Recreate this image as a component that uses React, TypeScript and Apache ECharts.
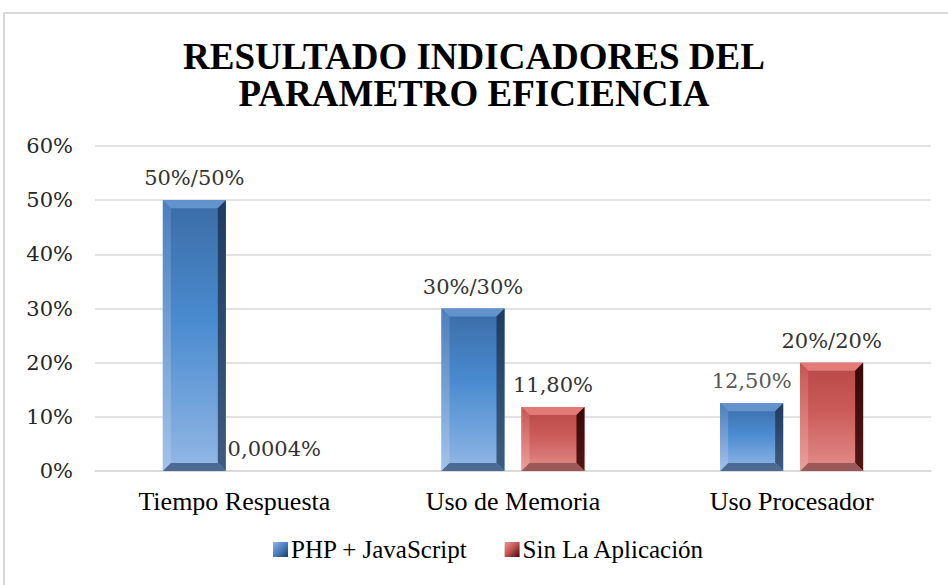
import React, { useEffect, useRef } from "react";
import * as echarts from "echarts";

const categories = ["Tiempo Respuesta", "Uso de Memoria", "Uso Procesador"];
const seriesNames = ["PHP + JavaScript", "Sin La Aplicación"];
const phpValues = [50, 30, 12.5];
const sinValues = [0.0004, 11.8, 20];
const phpLabels = ["50%/50%", "30%/30%", "12,50%"];
const sinLabels = ["0,0004%", "11,80%", "20%/20%"];
const yTicks = { min: 0, max: 60, interval: 10 };
const titleText = "RESULTADO INDICADORES DEL\nPARAMETRO EFICIENCIA";

const LG = (x0: number, y0: number, x1: number, y1: number, stops: [number, string][]) =>
  new echarts.graphic.LinearGradient(
    x0, y0, x1, y1,
    stops.map(([offset, color]) => ({ offset, color }))
  );

const palettes = [
  {
    face: [[0, "#3b6ca6"], [0.45, "#4a8bd0"], [1, "#93b8e5"]] as [number, string][],
    top: "#6393cd",
    left: [[0, "#4b7fbe"], [1, "#a3c3ea"]] as [number, string][],
    right: [[0, "#1f3b61"], [1, "#3e5b80"]] as [number, string][],
    bottom: "#4d6b92",
    labelColors: ["#333333", "#333333", "#595959"],
  },
  {
    face: [[0, "#b84846"], [0.45, "#cb5b59"], [1, "#e38e8b"]] as [number, string][],
    top: "#e27a77",
    left: [[0, "#c85654"], [1, "#eba09d"]] as [number, string][],
    right: [[0, "#360909"], [1, "#521616"]] as [number, string][],
    bottom: "#9c5858",
    labelColors: ["#333333", "#333333", "#333333"],
  },
];

const labelFont = "DejaVu Serif";
const textFont = "Liberation Serif";

function makeRender(si: number, labels: string[]) {
  const pal = palettes[si];
  return (params: any, api: any) => {
    const idx = api.value(0);
    const v = api.value(1);
    const base = api.coord([idx, 0]);
    const topPt = api.coord([idx, v]);
    const band = api.size([1, 0])[0];
    const barW = band * 0.226;
    const gap = band * 0.061;
    const cx0 = base[0];
    const x = si === 0 ? cx0 - gap / 2 - barW : cx0 + gap / 2;
    const y = topPt[1];
    const w = barW;
    const h = base[1] - topPt[1];
    const children: any[] = [];
    if (h >= 1) {
      const b = Math.min(8, h / 2, w / 2);
      children.push({
        type: "rect",
        shape: { x, y, width: w, height: h },
        style: { fill: LG(0, 0, 0, 1, pal.face) },
      });
      children.push({
        type: "polygon",
        shape: { points: [[x, y], [x + w, y], [x + w - b, y + b], [x + b, y + b]] },
        style: { fill: pal.top },
      });
      children.push({
        type: "polygon",
        shape: { points: [[x, y], [x + b, y + b], [x + b, y + h - b], [x, y + h]] },
        style: { fill: LG(0, 0, 0, 1, pal.left) },
      });
      children.push({
        type: "polygon",
        shape: { points: [[x + w, y], [x + w, y + h], [x + w - b, y + h - b], [x + w - b, y + b]] },
        style: { fill: LG(0, 0, 0, 1, pal.right) },
      });
      children.push({
        type: "polygon",
        shape: { points: [[x, y + h], [x + b, y + h - b], [x + w - b, y + h - b], [x + w, y + h]] },
        style: { fill: pal.bottom },
      });
    }
    children.push({
      type: "text",
      style: {
        text: labels[idx],
        x: x + w / 2,
        y: y - 22,
        align: "center",
        verticalAlign: "middle",
        fontFamily: labelFont,
        fontSize: 21,
        fill: pal.labelColors[idx],
      },
    });
    return { type: "group", children };
  };
}

export default function App() {
  const ref = useRef<HTMLDivElement>(null);
  useEffect(() => {
    if (!ref.current) return;
    const chart = echarts.init(ref.current, undefined, { renderer: "svg" });
    const option: any = {
      animation: false,
      backgroundColor: "#ffffff",
      graphic: [
        {
          type: "rect",
          shape: { x: 4, y: 13, width: 980, height: 620 },
          style: { fill: "none", stroke: "#d9d9d9", lineWidth: 2 },
          z: 0,
        },
      ],
      title: {
        text: titleText,
        left: "center",
        top: 33,
        textStyle: {
          fontFamily: textFont,
          fontWeight: "bold",
          fontSize: 37,
          lineHeight: 37,
          color: "#000000",
        },
      },
      legend: {
        left: 268,
        top: 532,
        itemWidth: 15,
        itemHeight: 15,
        itemGap: 37,
        icon: "rect",
        textStyle: {
          fontFamily: textFont,
          fontSize: 25,
          color: "#000000",
          padding: [0, 0, 0, -2],
        },
        data: [
          {
            name: seriesNames[0],
            itemStyle: { color: LG(0, 0, 1, 1, [[0, "#8fb4e2"], [0.5, "#4a80c0"], [1, "#1f3b61"]]) },
          },
          {
            name: seriesNames[1],
            itemStyle: { color: LG(0, 0, 1, 1, [[0, "#e89a98"], [0.5, "#c0504d"], [1, "#3a0a0a"]]) },
          },
        ],
      },
      grid: { left: 95, right: 17, top: 146, bottom: 114, containLabel: false },
      xAxis: {
        type: "category",
        data: categories,
        axisLine: { show: true, lineStyle: { color: "#d9d9d9", width: 1.5 } },
        axisTick: { show: false },
        axisLabel: {
          margin: 17,
          fontFamily: textFont,
          fontSize: 26,
          color: "#000000",
        },
      },
      yAxis: {
        type: "value",
        min: yTicks.min,
        max: yTicks.max,
        interval: yTicks.interval,
        axisLine: { show: false },
        axisTick: { show: false },
        splitLine: { lineStyle: { color: "#d9d9d9", width: 1.5 } },
        axisLabel: {
          margin: 22,
          formatter: (v: number) => v + "%",
          fontFamily: labelFont,
          fontSize: 21,
          color: "#262626",
        },
      },
      series: [
        {
          name: seriesNames[0],
          type: "custom",
          itemStyle: { color: "#4f81bd" },
          encode: { x: 0, y: 1 },
          data: phpValues.map((v, i) => [i, v]),
          renderItem: makeRender(0, phpLabels),
          z: 3,
        },
        {
          name: seriesNames[1],
          type: "custom",
          itemStyle: { color: "#c0504d" },
          encode: { x: 0, y: 1 },
          data: sinValues.map((v, i) => [i, v]),
          renderItem: makeRender(1, sinLabels),
          z: 3,
        },
      ],
    };
    chart.setOption(option);
    return () => chart.dispose();
  }, []);
  return (
    <div
      ref={ref}
      style={{ position: "absolute", left: 0, top: 0, width: 948, height: 585 }}
    />
  );
}
